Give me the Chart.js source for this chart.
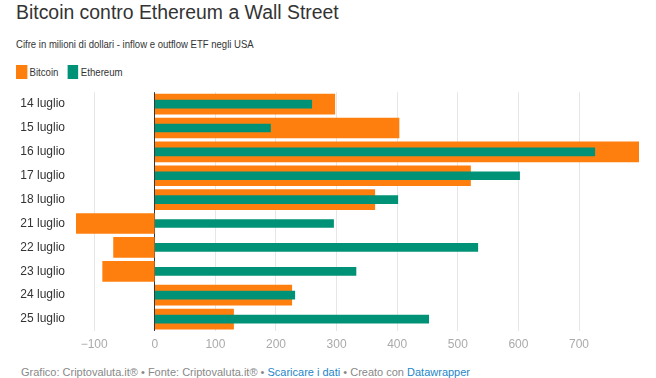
<!DOCTYPE html>
<html>
<head>
<meta charset="utf-8">
<script src="https://cdn.jsdelivr.net/npm/chart.js@4/dist/chart.umd.min.js"></script>
<style>
    body { margin:0; background:#fff; width:656px; height:378px; position:relative; overflow:hidden;
           font-family:"Liberation Sans", Arial, sans-serif; color:#333; }
    .sq { transform-origin:left top; position:absolute; white-space:nowrap; }
    #title { left:16px; top:1px; font-size:20px; line-height:22px; color:#333; transform:scaleX(0.97); }
    #subtitle { left:16px; top:37px; font-size:11.5px; line-height:14px; transform:scaleX(0.83); }
    #legend { left:16px; top:65px; font-size:11px; line-height:14px; transform:scaleX(0.875); }
    .key { display:inline-block; width:12.5px; height:14px; vertical-align:top; margin-right:3px; }
    .item { display:inline-block; margin-right:7px; }
    #footer { left:21px; top:366px; font-size:11px; line-height:13px; color:#888; }
    #footer a { color:#1d86c8; text-decoration:none; }
    #chart { position:absolute; left:0; top:74px; }
</style>
</head>
<body>

<div id="title" class="sq">Bitcoin contro Ethereum a Wall Street</div>
<div id="subtitle" class="sq">Cifre in milioni di dollari - inflow e outflow ETF negli USA</div>
<div id="legend" class="sq">
    <span class="item"><span class="key" style="background:#ff7f0e"></span>Bitcoin</span>
    <span class="item"><span class="key" style="background:#009276"></span>Ethereum</span>
</div>

<canvas id="chart" width="656" height="281"></canvas>

<div id="footer" class="sq">Grafico: Criptovaluta.it® • Fonte: Criptovaluta.it® • <a>Scaricare i dati</a> • Creato con <a>Datawrapper</a></div>

<script>
// ===============================
// DATA
// ===============================

const days = ["14 luglio","15 luglio","16 luglio","17 luglio","18 luglio",
              "21 luglio","22 luglio","23 luglio","24 luglio","25 luglio"];

const bitcoin  = [297, 403, 799, 521, 363, -130, -68, -86, 226, 130];
const ethereum = [259, 191, 726, 602, 401, 295, 533, 332, 231, 452];

const xMin = -130;
const xMax = 799;

// ===============================
// CHART
// ===============================

new Chart(document.getElementById("chart"), {
    type: "bar",
    data: {
        labels: days,
        datasets: [
            {
                label: "Ethereum",
                data: ethereum,
                backgroundColor: "#009276",
                barThickness: 8,
                grouped: false,
                order: 0
            },
            {
                label: "Bitcoin",
                data: bitcoin,
                backgroundColor: "#ff7f0e",
                barThickness: 20,
                grouped: false,
                order: 1
            }
        ]
    },
    options: {
        indexAxis: "y",
        responsive: false,
        animation: false,
        devicePixelRatio: 1,
        layout: { padding: { top: 6, right: 17, left: 0, bottom: 0 } },
        plugins: {
            legend: { display: false },
            tooltip: { enabled: false }
        },
        scales: {
            x: {
                min: xMin,
                max: xMax,
                border: { display: false },
                grid: {
                    drawTicks: false,
                    color: c => c.tick && c.tick.value === 0 ? "#333" : "#e6e6e6"
                },
                ticks: {
                    stepSize: 100,
                    includeBounds: false,
                    padding: 6,
                    color: "#aaa",
                    font: { family: "'Liberation Sans', Arial", size: 12 },
                    maxRotation: 0,
                    callback: v => v < 0 ? "\u2212" + Math.abs(v) : v
                },
                afterFit: s => { s.height = 24; }
            },
            y: {
                border: { display: false },
                grid: { display: false, drawTicks: false },
                ticks: {
                    padding: 11,
                    color: "#333",
                    font: { family: "'Liberation Sans', Arial", size: 12 }
                },
                afterFit: s => { s.width = 76; }
            }
        }
    }
});
</script>
</body>
</html>
